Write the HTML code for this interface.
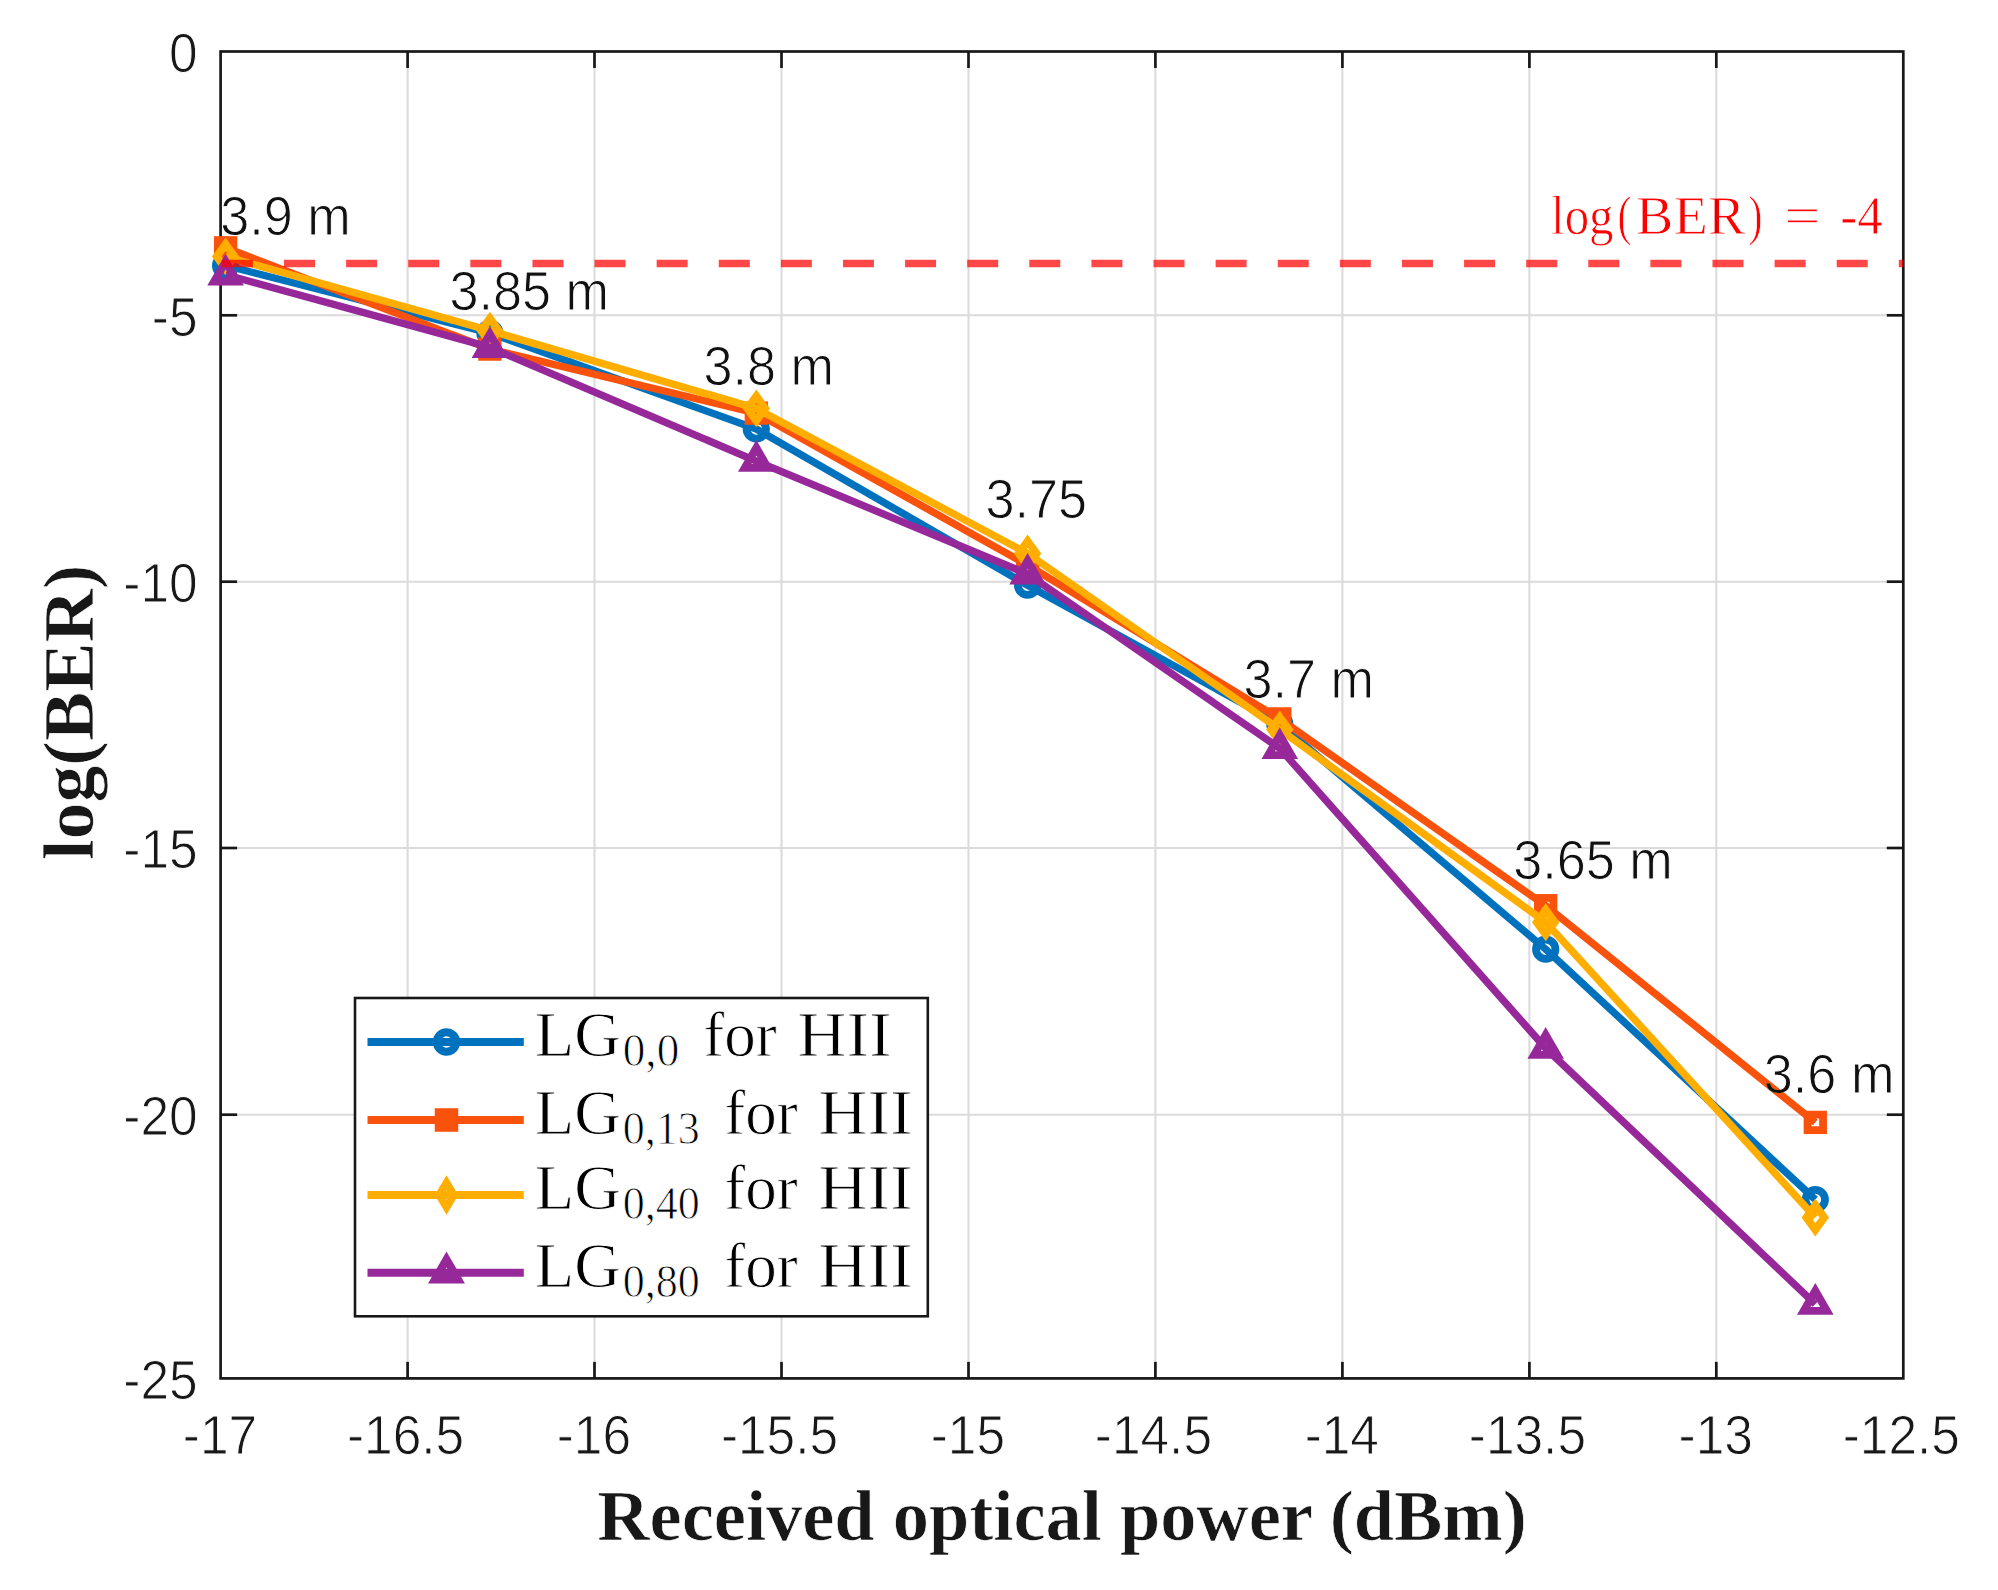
<!DOCTYPE html>
<html lang="en"><head><meta charset="utf-8"><title>log(BER) vs received optical power</title>
<style>html,body{margin:0;padding:0;background:#fff;}svg{display:block;}</style></head><body>
<svg width="1998" height="1590" viewBox="0 0 1998 1590">
<rect x="0" y="0" width="1998" height="1590" fill="#ffffff"/>
<g stroke="#dbdbdb" stroke-width="2.1" fill="none">
<line x1="407.6" y1="51.5" x2="407.6" y2="1378.4"/>
<line x1="594.5" y1="51.5" x2="594.5" y2="1378.4"/>
<line x1="781.5" y1="51.5" x2="781.5" y2="1378.4"/>
<line x1="968.5" y1="51.5" x2="968.5" y2="1378.4"/>
<line x1="1155.4" y1="51.5" x2="1155.4" y2="1378.4"/>
<line x1="1342.4" y1="51.5" x2="1342.4" y2="1378.4"/>
<line x1="1529.4" y1="51.5" x2="1529.4" y2="1378.4"/>
<line x1="1716.3" y1="51.5" x2="1716.3" y2="1378.4"/>
<line x1="220.6" y1="315.3" x2="1903.3" y2="315.3"/>
<line x1="220.6" y1="581.7" x2="1903.3" y2="581.7"/>
<line x1="220.6" y1="848.0" x2="1903.3" y2="848.0"/>
<line x1="220.6" y1="1114.7" x2="1903.3" y2="1114.7"/>
</g>
<g stroke="#181818" stroke-width="2.7" fill="none" stroke-linecap="butt">
<rect x="220.6" y="51.5" width="1682.7" height="1326.9"/>
<line x1="407.6" y1="1378.4" x2="407.6" y2="1361.9"/>
<line x1="407.6" y1="51.5" x2="407.6" y2="68.0"/>
<line x1="594.5" y1="1378.4" x2="594.5" y2="1361.9"/>
<line x1="594.5" y1="51.5" x2="594.5" y2="68.0"/>
<line x1="781.5" y1="1378.4" x2="781.5" y2="1361.9"/>
<line x1="781.5" y1="51.5" x2="781.5" y2="68.0"/>
<line x1="968.5" y1="1378.4" x2="968.5" y2="1361.9"/>
<line x1="968.5" y1="51.5" x2="968.5" y2="68.0"/>
<line x1="1155.4" y1="1378.4" x2="1155.4" y2="1361.9"/>
<line x1="1155.4" y1="51.5" x2="1155.4" y2="68.0"/>
<line x1="1342.4" y1="1378.4" x2="1342.4" y2="1361.9"/>
<line x1="1342.4" y1="51.5" x2="1342.4" y2="68.0"/>
<line x1="1529.4" y1="1378.4" x2="1529.4" y2="1361.9"/>
<line x1="1529.4" y1="51.5" x2="1529.4" y2="68.0"/>
<line x1="1716.3" y1="1378.4" x2="1716.3" y2="1361.9"/>
<line x1="1716.3" y1="51.5" x2="1716.3" y2="68.0"/>
<line x1="220.6" y1="315.3" x2="237.1" y2="315.3"/>
<line x1="1903.3" y1="315.3" x2="1886.8" y2="315.3"/>
<line x1="220.6" y1="581.7" x2="237.1" y2="581.7"/>
<line x1="1903.3" y1="581.7" x2="1886.8" y2="581.7"/>
<line x1="220.6" y1="848.0" x2="237.1" y2="848.0"/>
<line x1="1903.3" y1="848.0" x2="1886.8" y2="848.0"/>
<line x1="220.6" y1="1114.7" x2="237.1" y2="1114.7"/>
<line x1="1903.3" y1="1114.7" x2="1886.8" y2="1114.7"/>
</g>
<g font-family="'Liberation Sans', Arial, Helvetica, sans-serif" font-size="55.5" fill="#181818" stroke="#ffffff" stroke-width="1.0" style="mix-blend-mode:darken">
<text transform="translate(220.0,1454.3) scale(0.927,1)" text-anchor="middle">-17</text>
<text transform="translate(405.6,1454.3) scale(0.927,1)" text-anchor="middle">-16.5</text>
<text transform="translate(593.9,1454.3) scale(0.927,1)" text-anchor="middle">-16</text>
<text transform="translate(779.5,1454.3) scale(0.927,1)" text-anchor="middle">-15.5</text>
<text transform="translate(967.9,1454.3) scale(0.927,1)" text-anchor="middle">-15</text>
<text transform="translate(1153.4,1454.3) scale(0.927,1)" text-anchor="middle">-14.5</text>
<text transform="translate(1341.8,1454.3) scale(0.927,1)" text-anchor="middle">-14</text>
<text transform="translate(1527.4,1454.3) scale(0.927,1)" text-anchor="middle">-13.5</text>
<text transform="translate(1715.7,1454.3) scale(0.927,1)" text-anchor="middle">-13</text>
<text transform="translate(1901.3,1454.3) scale(0.927,1)" text-anchor="middle">-12.5</text>
<text transform="translate(197.6,71.8) scale(0.927,1)" text-anchor="end">0</text>
<text transform="translate(197.6,335.6) scale(0.927,1)" text-anchor="end">-5</text>
<text transform="translate(197.6,602.0) scale(0.927,1)" text-anchor="end">-10</text>
<text transform="translate(197.6,868.3) scale(0.927,1)" text-anchor="end">-15</text>
<text transform="translate(197.6,1135.0) scale(0.927,1)" text-anchor="end">-20</text>
<text transform="translate(197.6,1398.7) scale(0.927,1)" text-anchor="end">-25</text>
</g>
<text x="1062" y="1539.5" text-anchor="middle" font-family="'Liberation Serif', 'Times New Roman', Times, serif" font-weight="bold" font-size="72" fill="#181818" stroke="#ffffff" stroke-width="0.7" textLength="929.5" lengthAdjust="spacingAndGlyphs">Received optical power (dBm)</text>
<text transform="translate(92.6,712.3) rotate(-90)" text-anchor="middle" font-family="'Liberation Serif', 'Times New Roman', Times, serif" font-weight="bold" font-size="72" fill="#181818" stroke="#ffffff" stroke-width="0.7" textLength="295.5" lengthAdjust="spacingAndGlyphs">log(BER)</text>
<g>
<polyline points="225.6,265.5 489.9,333.0 756.3,429.0 1027.6,585.2 1279.8,724.0 1545.7,949.2 1815.3,1199.5" fill="none" stroke="#0072bd" stroke-width="7.4" stroke-linejoin="round"/>
<circle cx="225.6" cy="265.5" r="9.7" fill="none" stroke="#0072bd" stroke-width="7.8" stroke-linejoin="miter"/>
<circle cx="489.9" cy="333.0" r="9.7" fill="none" stroke="#0072bd" stroke-width="7.8" stroke-linejoin="miter"/>
<circle cx="756.3" cy="429.0" r="9.7" fill="none" stroke="#0072bd" stroke-width="7.8" stroke-linejoin="miter"/>
<circle cx="1027.6" cy="585.2" r="9.7" fill="none" stroke="#0072bd" stroke-width="7.8" stroke-linejoin="miter"/>
<circle cx="1279.8" cy="724.0" r="9.7" fill="none" stroke="#0072bd" stroke-width="7.8" stroke-linejoin="miter"/>
<circle cx="1545.7" cy="949.2" r="9.7" fill="none" stroke="#0072bd" stroke-width="7.8" stroke-linejoin="miter"/>
<circle cx="1815.3" cy="1199.5" r="9.7" fill="none" stroke="#0072bd" stroke-width="7.8" stroke-linejoin="miter"/>
</g>
<g>
<polyline points="225.6,247.8 489.9,349.1 756.3,413.1 1027.6,565.0 1279.8,718.9 1545.7,905.7 1815.3,1122.4" fill="none" stroke="#f9520d" stroke-width="7.4" stroke-linejoin="round"/>
<rect x="217.85" y="240.05" width="15.5" height="15.5" fill="none" stroke="#f9520d" stroke-width="7.8" stroke-linejoin="miter"/>
<rect x="482.15" y="341.35" width="15.5" height="15.5" fill="none" stroke="#f9520d" stroke-width="7.8" stroke-linejoin="miter"/>
<rect x="748.55" y="405.35" width="15.5" height="15.5" fill="none" stroke="#f9520d" stroke-width="7.8" stroke-linejoin="miter"/>
<rect x="1019.85" y="557.25" width="15.5" height="15.5" fill="none" stroke="#f9520d" stroke-width="7.8" stroke-linejoin="miter"/>
<rect x="1272.05" y="711.15" width="15.5" height="15.5" fill="none" stroke="#f9520d" stroke-width="7.8" stroke-linejoin="miter"/>
<rect x="1537.95" y="897.95" width="15.5" height="15.5" fill="none" stroke="#f9520d" stroke-width="7.8" stroke-linejoin="miter"/>
<rect x="1807.55" y="1114.65" width="15.5" height="15.5" fill="none" stroke="#f9520d" stroke-width="7.8" stroke-linejoin="miter"/>
</g>
<g>
<polyline points="225.6,256.5 489.9,330.6 756.3,408.4 1027.6,553.5 1279.8,729.5 1545.7,922.2 1815.3,1217.5" fill="none" stroke="#ffae00" stroke-width="7.4" stroke-linejoin="round"/>
<polygon points="225.6,244.2 234.5,256.5 225.6,268.8 216.7,256.5" fill="none" stroke="#ffae00" stroke-width="7.8" stroke-linejoin="miter"/>
<polygon points="489.9,318.3 498.8,330.6 489.9,342.9 481.0,330.6" fill="none" stroke="#ffae00" stroke-width="7.8" stroke-linejoin="miter"/>
<polygon points="756.3,396.1 765.2,408.4 756.3,420.7 747.4,408.4" fill="none" stroke="#ffae00" stroke-width="7.8" stroke-linejoin="miter"/>
<polygon points="1027.6,541.2 1036.5,553.5 1027.6,565.8 1018.7,553.5" fill="none" stroke="#ffae00" stroke-width="7.8" stroke-linejoin="miter"/>
<polygon points="1279.8,717.2 1288.7,729.5 1279.8,741.8 1270.9,729.5" fill="none" stroke="#ffae00" stroke-width="7.8" stroke-linejoin="miter"/>
<polygon points="1545.7,909.9 1554.6,922.2 1545.7,934.5 1536.8,922.2" fill="none" stroke="#ffae00" stroke-width="7.8" stroke-linejoin="miter"/>
<polygon points="1815.3,1205.2 1824.2,1217.5 1815.3,1229.8 1806.4,1217.5" fill="none" stroke="#ffae00" stroke-width="7.8" stroke-linejoin="miter"/>
</g>
<g>
<polyline points="225.6,274.8 489.9,347.3 756.3,461.1 1027.6,574.0 1279.8,748.4 1545.7,1048.2 1815.3,1304.1" fill="none" stroke="#96289a" stroke-width="7.4" stroke-linejoin="round"/>
<polygon points="225.6,261.5 237.15,281.5 214.05,281.5" fill="none" stroke="#96289a" stroke-width="7.8" stroke-linejoin="miter"/>
<polygon points="489.9,334.0 501.45,354.0 478.35,354.0" fill="none" stroke="#96289a" stroke-width="7.8" stroke-linejoin="miter"/>
<polygon points="756.3,447.8 767.85,467.8 744.75,467.8" fill="none" stroke="#96289a" stroke-width="7.8" stroke-linejoin="miter"/>
<polygon points="1027.6,560.7 1039.15,580.7 1016.05,580.7" fill="none" stroke="#96289a" stroke-width="7.8" stroke-linejoin="miter"/>
<polygon points="1279.8,735.1 1291.35,755.1 1268.25,755.1" fill="none" stroke="#96289a" stroke-width="7.8" stroke-linejoin="miter"/>
<polygon points="1545.7,1034.9 1557.25,1054.9 1534.15,1054.9" fill="none" stroke="#96289a" stroke-width="7.8" stroke-linejoin="miter"/>
<polygon points="1815.3,1290.8 1826.85,1310.8 1803.75,1310.8" fill="none" stroke="#96289a" stroke-width="7.8" stroke-linejoin="miter"/>
</g>
<line x1="221.9" y1="263.5" x2="1903.3" y2="263.5" stroke="#ff0000" stroke-opacity="0.72" stroke-width="7.4" stroke-dasharray="31 31.108"/>
<g font-family="'Liberation Serif', 'Times New Roman', Times, serif" font-size="55" fill="#ff0000" stroke="#ffffff" stroke-width="0.8" style="mix-blend-mode:darken">
<text x="1551.1" y="234.4" textLength="62.3" lengthAdjust="spacingAndGlyphs">log</text>
<text x="1617.5" y="234.4" textLength="14" lengthAdjust="spacingAndGlyphs">(</text>
<text x="1635.8" y="234.4" textLength="109.7" lengthAdjust="spacingAndGlyphs">BER</text>
<text x="1748.5" y="234.4" textLength="14" lengthAdjust="spacingAndGlyphs">)</text>
<text x="1784.2" y="234.4" textLength="36.2" lengthAdjust="spacingAndGlyphs">=</text>
<text x="1840.2" y="234.4" textLength="42.4" lengthAdjust="spacingAndGlyphs">-4</text>
</g>
<g font-family="'Liberation Sans', Arial, Helvetica, sans-serif" font-size="55.5" fill="#111111" stroke="#ffffff" stroke-width="1.0" style="mix-blend-mode:darken">
<text transform="translate(220.2,235.2) scale(0.941,1)">3.9 m</text>
<text transform="translate(449.4,309.90000000000003) scale(0.941,1)">3.85 m</text>
<text transform="translate(703.5,385.3) scale(0.941,1)">3.8 m</text>
<text transform="translate(985.5,518.4) scale(0.941,1)">3.75</text>
<text transform="translate(1243.4,698.0) scale(0.941,1)">3.7 m</text>
<text transform="translate(1513.2,879.1) scale(0.941,1)">3.65 m</text>
<text transform="translate(1763.8,1092.8999999999999) scale(0.941,1)">3.6 m</text>
</g>
<rect x="355.0" y="998.0" width="572.8" height="318.3" fill="#ffffff" stroke="#181818" stroke-width="2.6"/>
<line x1="367.5" y1="1042.0" x2="523.8" y2="1042.0" stroke="#0072bd" stroke-width="8"/>
<circle cx="446.5" cy="1042.0" r="9.7" fill="none" stroke="#0072bd" stroke-width="8" stroke-linejoin="miter"/>
<g font-family="'Liberation Serif', 'Times New Roman', Times, serif" fill="#000000" stroke="#ffffff" stroke-width="0.9">
<text x="534.8" y="1056.2" font-size="63" textLength="86" lengthAdjust="spacingAndGlyphs">LG</text>
<text x="622.8" y="1065.8" font-size="47" textLength="56.4" lengthAdjust="spacingAndGlyphs">0,0</text>
<text x="703.2" y="1056.2" font-size="63" textLength="73.5" lengthAdjust="spacingAndGlyphs">for</text>
<text x="797.3" y="1056.2" font-size="63" textLength="94.5" lengthAdjust="spacingAndGlyphs">HII</text>
</g>
<line x1="367.5" y1="1120.0" x2="523.8" y2="1120.0" stroke="#f9520d" stroke-width="8"/>
<rect x="438.75" y="1112.25" width="15.5" height="15.5" fill="none" stroke="#f9520d" stroke-width="8" stroke-linejoin="miter"/>
<g font-family="'Liberation Serif', 'Times New Roman', Times, serif" fill="#000000" stroke="#ffffff" stroke-width="0.9">
<text x="534.8" y="1134.2" font-size="63" textLength="86" lengthAdjust="spacingAndGlyphs">LG</text>
<text x="622.8" y="1143.8" font-size="47" textLength="77.0" lengthAdjust="spacingAndGlyphs">0,13</text>
<text x="724.2" y="1134.2" font-size="63" textLength="73.5" lengthAdjust="spacingAndGlyphs">for</text>
<text x="818.3" y="1134.2" font-size="63" textLength="94.5" lengthAdjust="spacingAndGlyphs">HII</text>
</g>
<line x1="367.5" y1="1195.0" x2="523.8" y2="1195.0" stroke="#ffae00" stroke-width="8"/>
<polygon points="446.5,1182.7 453.9,1195.0 446.5,1207.3 439.1,1195.0" fill="none" stroke="#ffae00" stroke-width="7.6" stroke-linejoin="miter"/>
<g font-family="'Liberation Serif', 'Times New Roman', Times, serif" fill="#000000" stroke="#ffffff" stroke-width="0.9">
<text x="534.8" y="1209.2" font-size="63" textLength="86" lengthAdjust="spacingAndGlyphs">LG</text>
<text x="622.8" y="1218.8" font-size="47" textLength="77.0" lengthAdjust="spacingAndGlyphs">0,40</text>
<text x="724.2" y="1209.2" font-size="63" textLength="73.5" lengthAdjust="spacingAndGlyphs">for</text>
<text x="818.3" y="1209.2" font-size="63" textLength="94.5" lengthAdjust="spacingAndGlyphs">HII</text>
</g>
<line x1="367.5" y1="1272.7" x2="523.8" y2="1272.7" stroke="#96289a" stroke-width="8"/>
<polygon points="446.5,1259.4 458.05,1279.4 434.95,1279.4" fill="none" stroke="#96289a" stroke-width="8" stroke-linejoin="miter"/>
<g font-family="'Liberation Serif', 'Times New Roman', Times, serif" fill="#000000" stroke="#ffffff" stroke-width="0.9">
<text x="534.8" y="1286.9" font-size="63" textLength="86" lengthAdjust="spacingAndGlyphs">LG</text>
<text x="622.8" y="1296.5" font-size="47" textLength="77.0" lengthAdjust="spacingAndGlyphs">0,80</text>
<text x="724.2" y="1286.9" font-size="63" textLength="73.5" lengthAdjust="spacingAndGlyphs">for</text>
<text x="818.3" y="1286.9" font-size="63" textLength="94.5" lengthAdjust="spacingAndGlyphs">HII</text>
</g>
</svg></body></html>
